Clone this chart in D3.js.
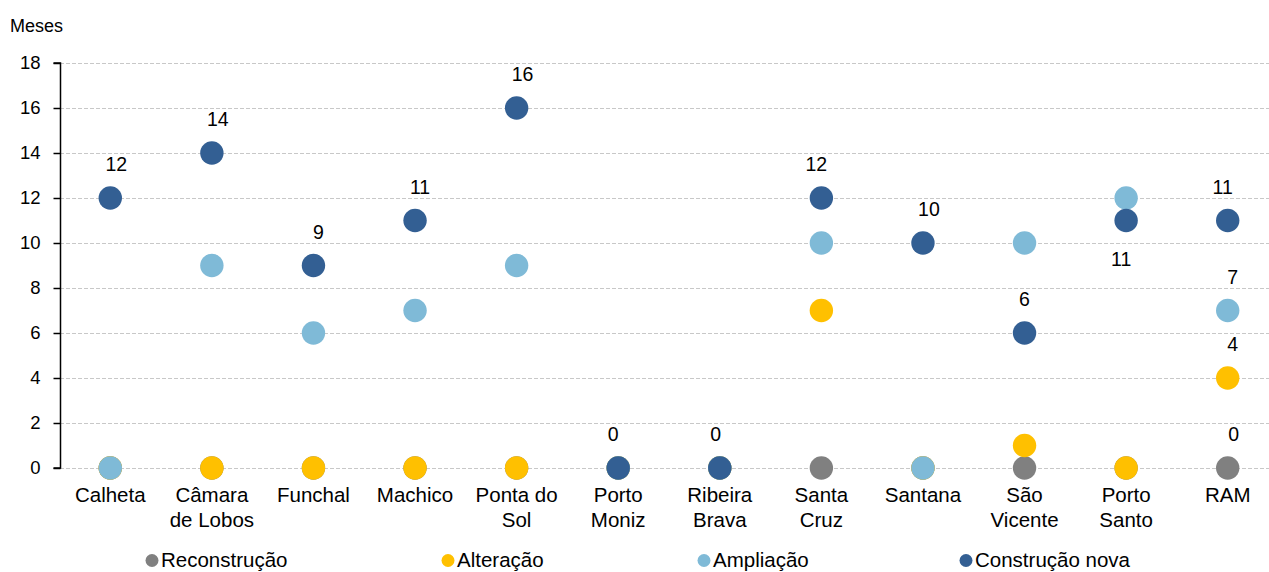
<!DOCTYPE html>
<html>
<head>
<meta charset="utf-8">
<script src="https://cdn.jsdelivr.net/npm/d3@7"></script>
<style>
  html, body { margin: 0; padding: 0; background: #fff; }
  svg { display: block; font-family: "Liberation Sans", Arial, sans-serif; }
</style>
</head>
<body>
<svg id="chart" width="1269" height="572"></svg>
<script>
// Categories (municipalities) and months per type of works
const categories = [
  ["Calheta"], ["Câmara", "de Lobos"], ["Funchal"], ["Machico"], ["Ponta do", "Sol"],
  ["Porto", "Moniz"], ["Ribeira", "Brava"], ["Santa", "Cruz"], ["Santana"],
  ["São", "Vicente"], ["Porto", "Santo"], ["RAM"]
];
const reconstrucao = [0, 0, 0, 0, 0, 0, 0, 0, 0, 0, 0, 0];
const alteracao    = [0, 0, 0, 0, 0, 0, 0, 7, 0, 1, 0, 4];
const ampliacao    = [0, 9, 6, 7, 9, 0, 0, 10, 0, 10, 12, 7];
const construcao   = [12, 14, 9, 11, 16, 0, 0, 12, 10, 6, 11, 11];
const yTicks = [0, 2, 4, 6, 8, 10, 12, 14, 16, 18];

const seriesNames = ["Reconstrução", "Alteração", "Ampliação", "Construção nova"];
const seriesColors = ["#808080", "#FFC000", "#7FBAD7", "#335F93"];
const seriesValues = [reconstrucao, alteracao, ampliacao, construcao];

// value labels: [series, category, dx, dy] (label nudges relative to the marker)
const valueLabels = [
  [3, 0, 6, -27], [3, 1, 6, -27], [3, 2, 5, -27], [3, 3, 5, -27], [3, 4, 6, -27],
  [3, 5, -5, -27], [3, 6, -4, -27], [3, 7, -5, -27], [3, 8, 6, -27], [3, 9, 0, -27],
  [3, 10, -5, 45], [3, 11, -5, -27],
  [2, 11, 5, -27], [1, 11, 5, -27], [0, 11, 6, -27]
];

const svg = d3.select("#chart");
const keys = categories.map((c, i) => i);

const x = d3.scaleBand().domain(keys).range([59.5, 1278.5]);
const y = d3.scaleLinear().domain([0, 18]).range([468, 63]);
const cx = i => x(i) + x.bandwidth() / 2;

// horizontal dashed gridlines
svg.append("g").selectAll("line").data(yTicks).join("line")
  .attr("x1", 60).attr("x2", 1269)
  .attr("y1", d => Math.round(y(d)) + 0.5).attr("y2", d => Math.round(y(d)) + 0.5)
  .attr("stroke", "#c8c8c8").attr("stroke-width", 1).attr("stroke-dasharray", "4,2");

// y axis
const yAxis = d3.axisLeft(y).tickValues(yTicks).tickSize(7).tickPadding(13).tickFormat(d3.format("d"));
const gy = svg.append("g").attr("transform", "translate(60.5,0)").call(yAxis);
gy.select(".domain").attr("stroke", "#000").attr("stroke-width", 1.5).attr("d", `M-7,${y(18)}H0V${y(0)}H-7`);
gy.selectAll(".tick line").attr("stroke", "#000").attr("stroke-width", 1.5);
gy.selectAll(".tick text").attr("font-size", 18.5).attr("fill", "#000")
  .attr("font-family", "Liberation Sans, Arial, sans-serif");

svg.append("text").attr("x", 10).attr("y", 32).attr("font-size", 18).text("Meses");

// category labels (one or two lines)
const xl = svg.append("g");
categories.forEach((lines, i) => {
  const t = xl.append("text").attr("text-anchor", "middle").attr("font-size", 20.5).attr("fill", "#000");
  lines.forEach((ln, j) => {
    t.append("tspan").attr("x", cx(i)).attr("y", 502 + j * 24.5).text(ln);
  });
});

// markers: series drawn in order so later series sit on top
seriesValues.forEach((vals, s) => {
  svg.append("g").selectAll("circle").data(vals).join("circle")
    .attr("cx", (d, i) => cx(i))
    .attr("cy", d => y(d))
    .attr("r", 11.7)
    .attr("fill", seriesColors[s]);
});

// value labels
svg.append("g").selectAll("text").data(valueLabels).join("text")
  .attr("x", d => cx(d[1]) + d[2])
  .attr("y", d => y(seriesValues[d[0]][d[1]]) + d[3])
  .attr("text-anchor", "middle").attr("font-size", 19.5).attr("fill", "#000")
  .text(d => seriesValues[d[0]][d[1]]);

// legend
const legendX = [152, 448, 704, 966];
const lg = svg.append("g");
seriesNames.forEach((name, s) => {
  lg.append("circle").attr("cx", legendX[s]).attr("cy", 560.5).attr("r", 6.5).attr("fill", seriesColors[s]);
  lg.append("text").attr("x", legendX[s] + 9).attr("y", 567).attr("font-size", 20.5).attr("fill", "#000").text(name);
});
</script>
</body>
</html>
